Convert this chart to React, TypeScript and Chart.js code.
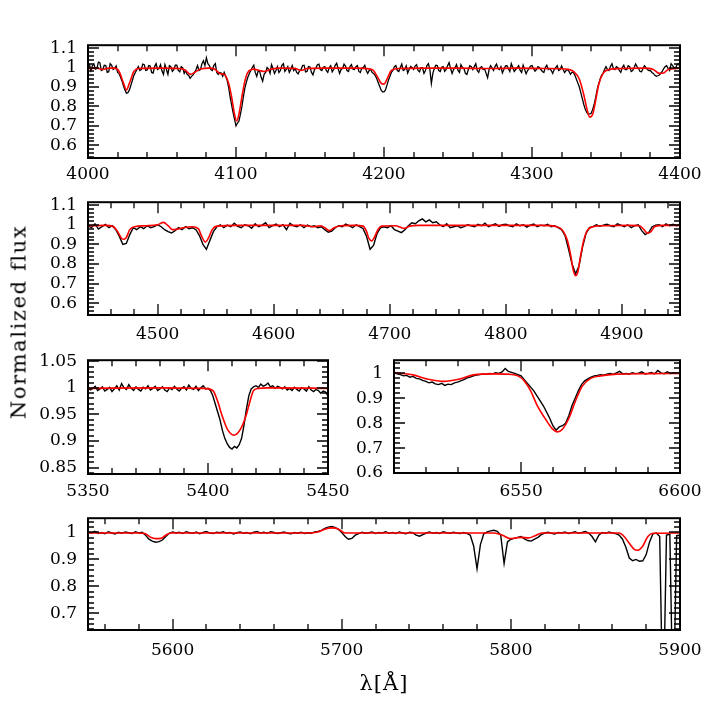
import React, { useEffect, useRef } from "react";
import { Chart, registerables } from "chart.js";

Chart.register(...registerables);

const FONT = "'DejaVu Serif', 'Liberation Serif', serif";

// ---------------- Panel 1 : 4000-4400 A ----------------
const blackStart1 = 4000;
const blackStep1 = 1;
const blackFlux1 = [
  1.002, 1.015, 0.985, 1.01, 1.018, 0.992, 0.995, 1.028, 1.025, 0.985, 0.99, 1.012, 1.01, 0.975, 0.978, 1.02, 1.012, 0.99, 0.996, 1.008,
  0.975, 0.97, 0.95, 0.93, 0.905, 0.885, 0.868, 0.872, 0.885, 0.91, 0.935, 0.96, 0.975, 0.99, 1.005, 0.985, 0.99, 1.018, 1.015, 0.985,
  0.988, 1.01, 1.008, 0.975, 0.972, 1.005, 1.02, 0.99, 0.995, 1.015, 0.982, 0.965, 1.015, 0.99, 0.965, 1.01, 1.005, 0.98, 0.99, 1.012,
  1.012, 0.985, 0.978, 1.005, 0.998, 0.97, 0.985, 0.965, 0.96, 0.945, 0.955, 0.962, 0.975, 0.99, 1.01, 0.985, 0.99, 1.02, 1.035, 1.01,
  1.05, 1.02, 1.01, 0.99, 0.985, 1.01, 1.02, 0.975, 0.965, 0.975, 0.972, 0.955, 0.975, 0.955, 0.935, 0.9, 0.85, 0.81, 0.77, 0.735,
  0.7, 0.715, 0.725, 0.76, 0.8, 0.85, 0.895, 0.925, 0.95, 0.97, 0.985, 1.0, 1.012, 0.975, 0.955, 0.985, 0.98, 0.95, 0.93, 0.965,
  0.975, 1.0, 0.992, 0.97, 1.015, 0.995, 0.97, 0.985, 1.005, 0.975, 0.985, 1.012, 1.02, 0.98, 0.99, 1.005, 0.975, 0.99, 1.01, 0.985,
  0.995, 0.975, 0.968, 0.985, 0.99, 1.01, 1.012, 0.978, 0.98, 1.005, 1.003, 0.975, 0.962, 0.99, 0.998, 1.015, 1.018, 0.99, 0.985, 1.002,
  1.005, 0.985, 0.975, 1.0, 1.01, 0.978, 0.99, 1.012, 1.022, 0.995, 0.97, 0.99, 0.995, 1.018, 1.008, 0.985, 0.98, 1.005, 1.015, 0.992,
  0.99, 1.005, 1.01, 0.98, 0.975, 0.998, 1.0, 1.012, 0.985, 0.97, 0.985, 0.99, 0.975, 0.97, 0.96, 0.945, 0.925, 0.905, 0.885, 0.875,
  0.875, 0.885, 0.91, 0.935, 0.955, 0.975, 0.985, 1.005, 1.01, 0.985, 0.98, 1.0, 1.018, 0.985, 0.99, 1.008, 0.972, 0.99, 1.006, 1.0,
  0.99, 1.008, 1.015, 0.985, 0.978, 1.0, 1.0, 0.97, 0.985, 1.01, 1.02, 0.99, 0.918, 0.97, 0.995, 1.012, 1.01, 0.985, 0.98, 1.002,
  1.005, 0.98, 0.99, 1.01, 1.025, 0.995, 0.97, 0.99, 1.0, 1.015, 0.985, 0.975, 1.015, 1.0, 0.995, 0.97, 0.965, 0.99, 1.01, 1.005,
  0.99, 1.005, 1.02, 0.985, 0.975, 1.0, 1.005, 0.99, 0.992, 0.97, 0.948, 0.99, 1.01, 0.998, 0.985, 1.005, 1.018, 0.995, 0.99, 1.005,
  0.972, 0.99, 1.008, 1.01, 0.995, 0.98, 1.02, 1.0, 0.98, 0.99, 1.0, 1.01, 0.985, 0.975, 1.012, 0.99, 0.968, 0.985, 0.995, 1.008,
  1.01, 0.995, 0.982, 0.99, 1.005, 1.0, 0.99, 0.98, 0.975, 1.0, 1.012, 0.99, 0.995, 0.985, 0.97, 0.99, 1.0, 1.01, 0.985, 0.99,
  1.008, 0.99, 0.975, 0.985, 0.99, 0.98, 0.965, 0.975, 0.975, 0.96, 0.94, 0.92, 0.9, 0.87, 0.84, 0.81, 0.785, 0.77, 0.76, 0.762,
  0.765, 0.785, 0.81, 0.845, 0.885, 0.915, 0.94, 0.96, 0.97, 0.99, 1.005, 0.99, 0.985, 1.005, 1.02, 0.995, 0.99, 1.005, 1.0, 0.985,
  0.975, 1.0, 1.012, 0.99, 0.99, 1.01, 1.005, 0.98, 0.985, 1.0, 1.018, 1.005, 0.995, 0.98, 0.978, 0.995, 1.01, 1.0, 0.99, 0.985,
  0.985, 0.975, 0.97, 0.96, 0.955, 0.958, 0.962, 0.97, 0.98, 0.995, 1.005, 1.01, 0.995, 0.985, 1.02, 1.01, 1.0, 0.995, 1.015, 1.02,
  1.005,
];
const redWave1 = [
  4000, 4006, 4010, 4014, 4018, 4021, 4024, 4026, 4028, 4031, 4034, 4050, 4062, 4066, 4069,
  4072, 4076, 4082, 4086, 4089, 4092, 4095, 4097, 4099, 4100.5, 4102, 4104, 4106, 4108, 4112,
  4116, 4119, 4123, 4130, 4140, 4144, 4148, 4160, 4180, 4192, 4195, 4198, 4200, 4202, 4205,
  4210, 4230, 4250, 4270, 4290, 4310, 4322, 4328, 4332, 4335, 4337, 4339, 4341, 4343, 4345,
  4348, 4352, 4360, 4375, 4382, 4386, 4389, 4392, 4400,
];
const redFlux1 = [
  0.995, 0.997, 0.99, 0.997, 0.997, 0.98, 0.92, 0.885, 0.92, 0.98, 0.995, 0.997, 0.995, 0.985, 0.965,
  0.975, 0.993, 0.997, 0.99, 0.97, 0.965, 0.92, 0.85, 0.76, 0.725, 0.76, 0.85, 0.93, 0.975, 0.992,
  0.985, 0.98, 0.99, 0.997, 0.995, 0.985, 0.995, 0.997, 0.997, 0.99, 0.96, 0.92, 0.915, 0.94, 0.985,
  0.995, 0.997, 0.997, 0.995, 0.997, 0.995, 0.993, 0.98, 0.94, 0.86, 0.79, 0.745, 0.76, 0.83, 0.91,
  0.97, 0.99, 0.995, 0.997, 0.99, 0.97, 0.972, 0.99, 0.997,
];
const xTicks1 = [4000, 4100, 4200, 4300, 4400];
const yTicks1 = [0.6, 0.7, 0.8, 0.9, 1, 1.1];

// ---------------- Panel 2 : 4440-4950 A ----------------
const blackStart2 = 4440;
const blackStep2 = 3;
const blackFlux2 = [
  0.995, 0.985, 1.005, 0.978, 0.99, 1.002, 0.985, 0.995, 0.975, 0.94,
  0.9, 0.905, 0.95, 0.985, 0.975, 0.99, 0.98, 0.995, 0.985, 0.99,
  1.0, 0.99, 0.975, 0.965, 0.958, 0.97, 0.985, 0.975, 0.99, 0.98,
  0.985, 0.975, 0.945, 0.9, 0.875, 0.92, 0.965, 0.99, 1.0, 0.985,
  0.998, 0.99, 1.008, 0.992, 0.985, 1.0, 0.995, 0.982, 1.005, 0.99,
  0.998, 1.01, 0.985, 0.995, 1.003, 0.99, 1.0, 0.975, 1.008, 0.995,
  0.99, 1.0, 0.985, 0.998, 0.99, 0.995, 0.985, 0.99, 0.975, 0.962,
  0.968, 0.985, 0.995, 0.99, 1.003, 0.995, 0.985, 1.0, 0.99, 0.98,
  0.94, 0.875, 0.895, 0.955, 0.985, 0.99, 0.985, 0.995, 0.975, 0.968,
  0.96, 0.975, 0.995, 1.01, 1.005, 1.02, 1.03, 1.015, 1.025, 1.01,
  1.015, 1.0, 0.99, 1.005, 0.985, 0.99, 0.995, 0.985, 0.99, 1.0,
  0.995, 0.99, 1.002, 0.995, 1.008, 0.99, 0.998, 1.005, 0.992, 1.0,
  1.003, 0.995, 0.99, 1.005, 0.995, 1.0, 0.988, 0.998, 1.004, 0.99,
  0.998, 0.995, 1.002, 0.99, 0.995, 0.985, 0.975, 0.945, 0.875, 0.8,
  0.75, 0.79, 0.885, 0.955, 0.985, 0.99, 1.0, 0.992, 0.998, 1.003,
  0.995, 0.99, 1.005, 0.998, 0.99, 1.0, 0.985, 0.995, 1.0, 0.97,
  0.95, 0.96, 0.99, 0.998, 1.0, 0.99, 1.005, 0.995, 1.002, 0.995, 1.0,
];
const redWave2 = [
  4440, 4455, 4462, 4466, 4469, 4471, 4473, 4476, 4480, 4490, 4500, 4505, 4509, 4513, 4517,
  4522, 4530, 4535, 4538, 4541, 4544, 4547, 4551, 4570, 4600, 4625, 4634, 4640, 4644, 4648,
  4652, 4658, 4670, 4677, 4680, 4682, 4684.5, 4687, 4690, 4693, 4705, 4710, 4713, 4717, 4725,
  4760, 4800, 4830, 4844, 4849, 4853, 4856, 4858, 4860, 4862, 4864, 4867, 4870, 4875, 4885,
  4905, 4915, 4919, 4922, 4925, 4928, 4935, 4950,
];
const redFlux2 = [
  0.995, 0.997, 0.99, 0.96, 0.93, 0.926, 0.935, 0.975, 0.99, 0.995, 1.0, 1.012, 0.995, 0.975, 0.978,
  0.985, 0.99, 0.98, 0.94, 0.912, 0.935, 0.975, 0.993, 0.997, 0.997, 0.997, 0.99, 0.995, 0.985, 0.97,
  0.985, 0.995, 0.997, 0.993, 0.965, 0.93, 0.918, 0.94, 0.978, 0.993, 0.995, 0.985, 0.982, 0.993, 0.997,
  0.997, 0.997, 0.997, 0.99, 0.97, 0.92, 0.84, 0.77, 0.74, 0.76, 0.83, 0.92, 0.97, 0.99, 0.995,
  0.997, 0.995, 0.975, 0.957, 0.965, 0.99, 0.997, 0.997,
];
const xTicks2 = [4500, 4600, 4700, 4800, 4900];
const yTicks2 = [0.6, 0.7, 0.8, 0.9, 1, 1.1];

// ---------------- Panel 3 : 5350-5450 A ----------------
const blackStart3 = 5350;
const blackStep3 = 1;
const blackFlux3 = [
  1.0, 0.996, 0.999, 1.003, 0.995, 0.998, 1.002, 0.994, 0.997, 1.001,
  0.993, 0.998, 1.004, 0.996, 1.008, 1.0, 0.997, 1.006, 0.999, 0.995,
  1.002, 0.997, 0.994, 1.001, 0.998, 1.004, 0.996, 0.999, 1.003, 0.995,
  0.998, 1.002, 0.996, 0.993, 1.0, 0.997, 1.003, 0.998, 0.994, 0.999,
  1.002, 0.996, 1.005, 0.999, 0.997, 1.003, 0.995, 1.0, 1.004, 0.998,
  0.999, 0.995, 0.985, 0.97, 0.955, 0.94, 0.92, 0.905, 0.895, 0.888,
  0.885, 0.89, 0.887, 0.893, 0.905, 0.93, 0.96, 0.985, 0.998, 1.002,
  1.004, 1.001, 1.007, 1.003, 1.005, 1.009, 1.002, 1.004, 0.999, 1.003,
  1.001, 0.998, 1.002, 0.996, 0.999, 0.995, 1.001, 0.997, 0.994, 1.0,
  0.998, 0.994, 1.002, 0.996, 0.993, 0.997, 0.995, 0.99, 0.994, 0.992, 0.985,
];
const redWave3 = [5350, 5380, 5398, 5402, 5404, 5405.7, 5408, 5410.8, 5413.5, 5416, 5417.5, 5419, 5421, 5425, 5450];
const redFlux3 = [0.999, 1.0, 0.999, 0.995, 0.975, 0.95, 0.923, 0.911, 0.922, 0.95, 0.975, 0.995, 0.999, 1.0, 0.999];
const xTicks3 = [5350, 5400, 5450];
const yTicks3 = [0.85, 0.9, 0.95, 1, 1.05];

// ---------------- Panel 4 : 6510-6600 A ----------------
const blackStart4 = 6510;
const blackStep4 = 1;
const blackFlux4 = [
  1.003, 0.998, 0.995, 0.99, 0.992, 0.985, 0.988, 0.98, 0.978, 0.972,
  0.968, 0.962, 0.965, 0.958, 0.955, 0.96, 0.952, 0.957, 0.955, 0.962,
  0.965, 0.97, 0.975, 0.982, 0.985, 0.99, 0.993, 0.995, 0.998, 0.996,
  1.0, 0.998, 1.003, 1.0, 1.006, 1.02, 1.008, 1.004, 1.0, 0.995,
  0.99, 0.975, 0.96, 0.945, 0.93, 0.91, 0.89, 0.87, 0.845, 0.82,
  0.79, 0.772, 0.785, 0.79, 0.8, 0.83, 0.87, 0.9, 0.93, 0.955,
  0.97, 0.978, 0.985, 0.99, 0.992, 0.995, 0.993, 0.997, 1.0, 0.996,
  1.002, 1.008, 0.998, 1.0, 0.997, 1.003, 0.999, 1.001, 1.006, 0.998,
  1.0, 1.004, 0.998, 1.012, 1.002, 0.999, 1.006, 1.0, 1.003, 1.0, 1.002,
];
const redWave4 = [
  6510, 6516, 6520.3, 6525.6, 6530.8, 6535, 6541.4, 6546, 6549, 6551, 6553, 6555,
  6557.7, 6559.8, 6561.4, 6563, 6565, 6567.2, 6569.3, 6571.9, 6575, 6580, 6590, 6600,
];
const redFlux4 = [
  1.003, 0.994, 0.978, 0.968, 0.978, 0.994, 0.998, 0.997, 0.99, 0.97, 0.93, 0.873,
  0.816, 0.778, 0.765, 0.776, 0.819, 0.892, 0.95, 0.98, 0.99, 0.997, 0.999, 1.0,
];
const xTicks4 = [6550, 6600];
const yTicks4 = [0.6, 0.7, 0.8, 0.9, 1];

// ---------------- Panel 5 : 5550-5900 A ----------------
const blackStart5 = 5550;
const blackStep5 = 2;
const blackFlux5 = [
  1.002, 0.998, 1.004, 0.996, 1.0, 0.995, 1.003, 0.998, 0.994, 1.001,
  0.997, 1.002, 0.999, 0.996, 1.003, 0.998, 1.001, 0.99, 0.975, 0.968,
  0.964, 0.966, 0.972, 0.985, 0.997, 1.002, 0.998, 1.001, 0.996, 1.003,
  0.999, 0.997, 1.002, 0.995, 1.0, 1.004, 0.998, 0.996, 1.001, 0.999,
  1.003, 0.997, 1.0, 0.994, 0.999, 1.002, 0.997, 1.0, 0.995, 1.001,
  1.004, 0.998, 1.001, 0.997, 1.003, 1.0, 0.996, 0.999, 1.002, 0.997,
  0.995, 1.0, 0.997, 1.001, 0.996, 0.999, 0.997, 1.002, 1.004, 1.008,
  1.015, 1.02, 1.022, 1.019, 1.012, 1.0, 0.985, 0.975, 0.978, 0.99,
  0.996, 1.001, 0.997, 0.999, 1.002, 0.996, 1.0, 0.998, 1.003, 0.997,
  1.0, 0.996, 1.002, 0.998, 0.995, 1.001, 0.999, 0.99, 0.986, 0.992,
  0.998, 1.002, 0.997, 1.0, 0.996, 1.003, 0.999, 0.997, 1.001, 0.998,
  0.996, 1.0, 0.997, 0.99, 0.95, 0.865, 0.955, 0.995, 1.002, 1.006,
  1.008, 1.004, 0.99, 0.885, 0.965, 0.975, 0.978, 0.982, 0.985, 0.976,
  0.97, 0.968, 0.975, 0.982, 0.992, 0.998, 1.001, 0.997, 0.994, 1.0,
  0.998, 1.002, 0.996, 0.999, 1.003, 0.997, 1.0, 1.004, 0.998, 0.985,
  0.965, 0.99, 1.0, 0.997, 1.002, 0.998, 0.996, 0.99, 0.975, 0.945,
  0.905, 0.895, 0.9, 0.893, 0.895, 0.918, 0.965, 0.995, 0.998, 0.985,
  0.3, 0.99, 0.993, 0.3, 0.988, 0.99,
];
const redWave5 = [
  5550, 5580, 5584, 5587, 5590, 5593, 5596, 5599, 5680, 5686, 5690, 5694, 5698, 5701, 5704, 5790,
  5795, 5799.6, 5803, 5806.4, 5810.4, 5814, 5818.3, 5864, 5867, 5870, 5873, 5875, 5878, 5881, 5884, 5900,
];
const redFlux5 = [
  0.998, 0.998, 0.995, 0.982, 0.977, 0.978, 0.99, 0.998, 0.998, 1.002, 1.012, 1.017, 1.013, 1.0, 0.998, 0.998,
  0.99, 0.977, 0.98, 0.982, 0.98, 0.987, 0.998, 0.998, 0.985, 0.96, 0.937, 0.934, 0.95, 0.985, 0.997, 0.998,
];
const xTicks5 = [5600, 5700, 5800, 5900];
const yTicks5 = [0.7, 0.8, 0.9, 1];

// ---------------- layout ----------------
type Spec = {
  key: string;
  box: [number, number, number, number];
  xMin: number; xMax: number; yMin: number; yMax: number;
  xTicks: number[]; yTicks: number[];
  xMinor: number; xMajor: number; yMinor: number; yMajor: number;
  labelPad: number; blackWidth: number;
  blackStart: number; blackStep: number; blackFlux: number[];
  redWave: number[]; redFlux: number[];
};

const specs: Spec[] = [
  {
    key: "p1", box: [88, 39, 680, 158], xMin: 4000, xMax: 4400, yMin: 0.535, yMax: 1.115,
    xTicks: xTicks1, yTicks: yTicks1, xMinor: 20, xMajor: 100, yMinor: 0.02, yMajor: 0.1, labelPad: 6, blackWidth: 1.3,
    blackStart: blackStart1, blackStep: blackStep1, blackFlux: blackFlux1, redWave: redWave1, redFlux: redFlux1,
  },
  {
    key: "p2", box: [88, 196, 680, 315], xMin: 4440, xMax: 4950, yMin: 0.54, yMax: 1.115,
    xTicks: xTicks2, yTicks: yTicks2, xMinor: 20, xMajor: 100, yMinor: 0.02, yMajor: 0.1, labelPad: 9, blackWidth: 1.4,
    blackStart: blackStart2, blackStep: blackStep2, blackFlux: blackFlux2, redWave: redWave2, redFlux: redFlux2,
  },
  {
    key: "p3", box: [88, 354, 328, 474], xMin: 5350, xMax: 5450, yMin: 0.838, yMax: 1.052,
    xTicks: xTicks3, yTicks: yTicks3, xMinor: 10, xMajor: 50, yMinor: 0.01, yMajor: 0.05, labelPad: 7, blackWidth: 1.4,
    blackStart: blackStart3, blackStep: blackStep3, blackFlux: blackFlux3, redWave: redWave3, redFlux: redFlux3,
  },
  {
    key: "p4", box: [394, 354, 680, 473], xMin: 6510, xMax: 6600, yMin: 0.6, yMax: 1.053,
    xTicks: xTicks4, yTicks: yTicks4, xMinor: 10, xMajor: 50, yMinor: 0.02, yMajor: 0.1, labelPad: 8, blackWidth: 1.4,
    blackStart: blackStart4, blackStep: blackStep4, blackFlux: blackFlux4, redWave: redWave4, redFlux: redFlux4,
  },
  {
    key: "p5", box: [88, 512, 680, 630], xMin: 5550, xMax: 5900, yMin: 0.638, yMax: 1.053,
    xTicks: xTicks5, yTicks: yTicks5, xMinor: 20, xMajor: 100, yMinor: 0.02, yMajor: 0.1, labelPad: 10, blackWidth: 1.4,
    blackStart: blackStart5, blackStep: blackStep5, blackFlux: blackFlux5, redWave: redWave5, redFlux: redFlux5,
  },
];

const ML = 85, MT = 15, MR = 35, MB = 40;

function Panel({ s }: { s: Spec }) {
  const ref = useRef<HTMLCanvasElement | null>(null);
  const [x0, y0, x1, y1] = s.box;
  const w = x1 - x0 + ML + MR;
  const h = y1 - y0 + MT + MB;

  useEffect(() => {
    const canvas = ref.current;
    if (!canvas) return;

    const framePlugin = {
      id: "frameTicks_" + s.key,
      afterDatasetsDraw(chart: any) {
        const { ctx, chartArea } = chart;
        const { left, right, top, bottom } = chartArea;
        const xs = chart.scales.x;
        const ys = chart.scales.y;
        ctx.save();
        ctx.strokeStyle = "#000";
        ctx.lineWidth = 1.3;
        ctx.beginPath();
        const nx0 = Math.ceil(s.xMin / s.xMinor - 1e-6);
        const nx1 = Math.floor(s.xMax / s.xMinor + 1e-6);
        for (let n = nx0; n <= nx1; n++) {
          const v = n * s.xMinor;
          const p = Math.round(xs.getPixelForValue(v));
          const r = v / s.xMajor;
          const len = Math.abs(r - Math.round(r)) < 1e-6 ? 11 : 6;
          ctx.moveTo(p, bottom);
          ctx.lineTo(p, bottom - len);
          ctx.moveTo(p, top);
          ctx.lineTo(p, top + len);
        }
        const ny0 = Math.ceil(s.yMin / s.yMinor - 1e-6);
        const ny1 = Math.floor(s.yMax / s.yMinor + 1e-6);
        for (let n = ny0; n <= ny1; n++) {
          const v = n * s.yMinor;
          const p = Math.round(ys.getPixelForValue(v));
          const r = v / s.yMajor;
          const len = Math.abs(r - Math.round(r)) < 1e-4 ? 11 : 6;
          ctx.moveTo(left, p);
          ctx.lineTo(left + len, p);
          ctx.moveTo(right, p);
          ctx.lineTo(right - len, p);
        }
        ctx.stroke();
        ctx.lineWidth = 2;
        ctx.strokeRect(left, top, right - left, bottom - top);
        ctx.restore();
      },
    };

    const blackPts = s.blackFlux.map((f, i) => ({ x: s.blackStart + i * s.blackStep, y: f }));
    const redPts = s.redWave.map((wv, i) => ({ x: wv, y: s.redFlux[i] }));

    const chart = new Chart(canvas, {
      type: "line",
      data: {
        datasets: [
          {
            data: redPts,
            borderColor: "#ff0000",
            borderWidth: 1.6,
            pointRadius: 0,
            fill: false,
            cubicInterpolationMode: "monotone",
          },
          {
            data: blackPts,
            borderColor: "#000000",
            borderWidth: s.blackWidth,
            pointRadius: 0,
            fill: false,
            tension: 0,
          },
        ],
      },
      options: {
        animation: false,
        responsive: false,
        devicePixelRatio: 1,
        events: [],
        layout: { padding: { left: 0, top: MT, right: MR, bottom: 0 } },
        plugins: { legend: { display: false }, tooltip: { enabled: false } },
        scales: {
          x: {
            type: "linear",
            min: s.xMin,
            max: s.xMax,
            grid: { display: false, drawTicks: false },
            border: { display: false },
            afterBuildTicks: (sc: any) => {
              sc.ticks = s.xTicks.map((v) => ({ value: v }));
            },
            afterFit: (sc: any) => {
              sc.height = MB;
            },
            ticks: {
              autoSkip: false,
              maxRotation: 0,
              minRotation: 0,
              padding: s.labelPad,
              color: "#000",
              font: { family: FONT, size: 17 },
              callback: (v: any) => String(v),
            },
          },
          y: {
            type: "linear",
            min: s.yMin,
            max: s.yMax,
            grid: { display: false, drawTicks: false },
            border: { display: false },
            afterBuildTicks: (sc: any) => {
              sc.ticks = s.yTicks.map((v) => ({ value: v }));
            },
            afterFit: (sc: any) => {
              sc.width = ML;
            },
            ticks: {
              autoSkip: false,
              padding: 11,
              color: "#000",
              font: { family: FONT, size: 17 },
              callback: (v: any) => String(v),
            },
          },
        },
      } as any,
      plugins: [framePlugin],
    });
    return () => chart.destroy();
  }, []);

  return (
    <canvas
      ref={ref}
      width={w}
      height={h}
      style={{ position: "absolute", left: x0 - ML, top: y0 - MT, width: w, height: h }}
    />
  );
}

export default function App() {
  return (
    <div
      style={{
        position: "absolute",
        left: 0,
        top: 0,
        width: 718,
        height: 718,
        background: "#fff",
        overflow: "hidden",
      }}
    >
      {specs.map((s) => (
        <Panel key={s.key} s={s} />
      ))}
      <div
        style={{
          position: "absolute",
          left: 18.5,
          top: 322,
          transform: "translate(-50%, -50%) rotate(-90deg)",
          whiteSpace: "nowrap",
          fontFamily: FONT,
          fontSize: 21,
          letterSpacing: "1.6px",
          lineHeight: 1,
          color: "#000",
        }}
      >
        Normalized flux
      </div>
      <div
        style={{
          position: "absolute",
          left: 384,
          top: 683,
          transform: "translate(-50%, -50%)",
          whiteSpace: "nowrap",
          fontFamily: FONT,
          fontSize: 21,
          letterSpacing: "1px",
          lineHeight: 1,
          color: "#000",
        }}
      >
        λ[Å]
      </div>
    </div>
  );
}
